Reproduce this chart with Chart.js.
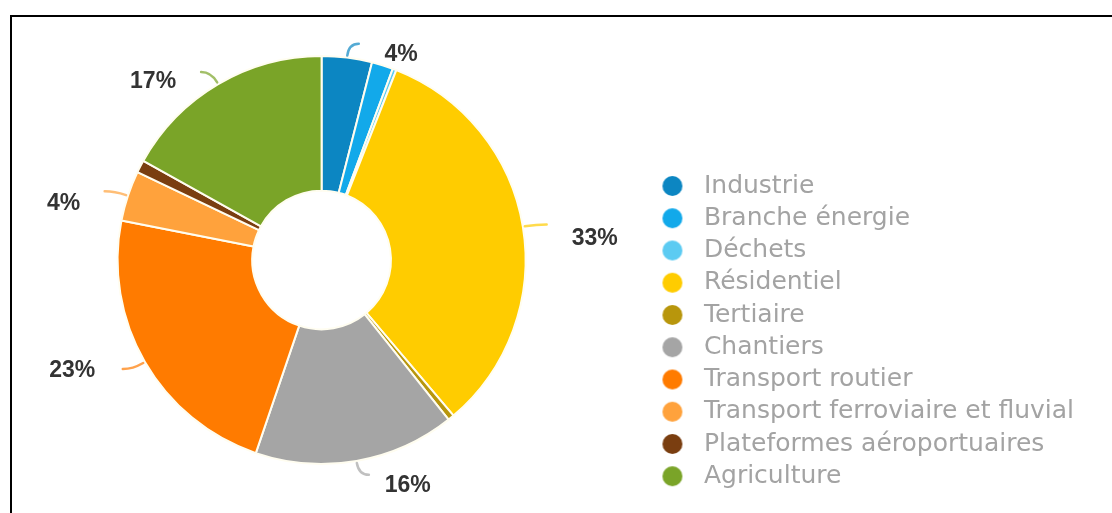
<!DOCTYPE html>
<html>
<head>
<meta charset="utf-8">
<script src="https://cdn.jsdelivr.net/npm/chart.js@4.4.0/dist/chart.umd.min.js"></script>
<style>
  html, body { margin: 0; padding: 0; background: #fff; overflow: hidden; }
  #frame { position: absolute; left: 10px; top: 15px; width: 1300px; height: 700px;
           border-top: 2px solid #000; border-left: 2px solid #000; }
  #wrap { position: absolute; left: 0; top: 0; width: 1112px; height: 513px; }
</style>
</head>
<body>
<div id="frame"></div>
<div id="wrap"><canvas id="myChart" width="1112" height="513"></canvas></div>
<script>
// emission shares by sector (%)
var sectors = ['Industrie', 'Branche énergie', 'Déchets', 'Résidentiel', 'Tertiaire',
               'Chantiers', 'Transport routier', 'Transport ferroviaire et fluvial',
               'Plateformes aéroportuaires', 'Agriculture']
var shares = [4, 1.7, 0.3, 33, 0.5, 16, 23, 4, 1, 17]
var colors = ['#0c86c2', '#12a9ea', '#5ccbf2', '#ffcc00', '#b8960c',
              '#a5a5a5', '#ff7b00', '#ffa23c', '#7a3e10', '#7aa428']

// where the percent labels sit: [angle shift in degrees, distance past the rim]
var labelPlace = [[14, 16], null, null, [5, 70], null, [-11, 38], [6, 69], [-6, 60], null, [-13, 41]]

// legend marker: a dot drawn a bit right of the image centre
function dot(color) {
    var c = document.createElement('canvas')
    c.width = 41
    c.height = 22
    var g = c.getContext('2d')
    g.fillStyle = color
    g.beginPath()
    g.arc(22, 11, 10, 0, Math.PI * 2)
    g.fill()
    return c
}
var dots = colors.map(dot)

var pctLabels = {
    id: 'pctLabels',
    afterDatasetsDraw: function(chart) {
        var ctx = chart.ctx
        var meta = chart.getDatasetMeta(0)
        meta.data.forEach(function(arc, i) {
            var place = labelPlace[i]
            if (!place) return
            var p = arc.getProps(['x', 'y', 'startAngle', 'endAngle', 'outerRadius'], true)
            var mid = (p.startAngle + p.endAngle) / 2
            var r = p.outerRadius
            var x0 = p.x + Math.cos(mid) * (r + 2), y0 = p.y + Math.sin(mid) * (r + 2)
            var x1 = p.x + Math.cos(mid) * (r + 14), y1 = p.y + Math.sin(mid) * (r + 14)

            var a = mid + place[0] * Math.PI / 180
            var lx = p.x + Math.cos(a) * (r + place[1])
            var ly = p.y + Math.sin(a) * (r + place[1])
            var dir = lx > x1 ? 1 : -1

            // leader line
            ctx.save()
            ctx.strokeStyle = colors[i]
            ctx.globalAlpha = 0.7
            ctx.lineWidth = 2.5
            ctx.lineCap = 'round'
            ctx.beginPath()
            ctx.moveTo(x0, y0)
            ctx.quadraticCurveTo(x1, y1, x1 + dir * 10, y1)
            ctx.stroke()
            ctx.restore()

            ctx.save()
            ctx.fillStyle = '#333'
            ctx.font = 'bold 23px "Liberation Sans", Arial, sans-serif'
            ctx.textAlign = 'center'
            ctx.textBaseline = 'middle'
            ctx.fillText(Math.round(shares[i]) + '%', lx, ly)
            ctx.restore()
        })
    }
}

var ctx = document.getElementById('myChart')

var myChart = new Chart(ctx, {
    type: 'doughnut',
    data: {
        labels: sectors,
        datasets: [{
            data: shares,
            backgroundColor: colors,
            borderColor: '#fffdf0',
            borderWidth: 2,
            radius: 204,
            cutout: '34%'
        }]
    },
    options: {
        responsive: false,
        animation: false,
        layout: { padding: { left: 0, right: 28, top: 24, bottom: 17 } },
        plugins: {
            tooltip: { enabled: false },
            legend: {
                position: 'right',
                align: 'end',
                labels: {
                    usePointStyle: true,
                    pointStyleWidth: 41,
                    padding: 7.25,
                    color: '#a3a3a3',
                    font: { family: '"DejaVu Sans", sans-serif', size: 25 },
                    generateLabels: function(chart) {
                        var items = Chart.overrides.doughnut.plugins.legend.labels.generateLabels(chart)
                        items.forEach(function(it, i) { it.pointStyle = dots[i] })
                        return items
                    }
                }
            }
        }
    },
    plugins: [pctLabels]
})
</script>
</body>
</html>
